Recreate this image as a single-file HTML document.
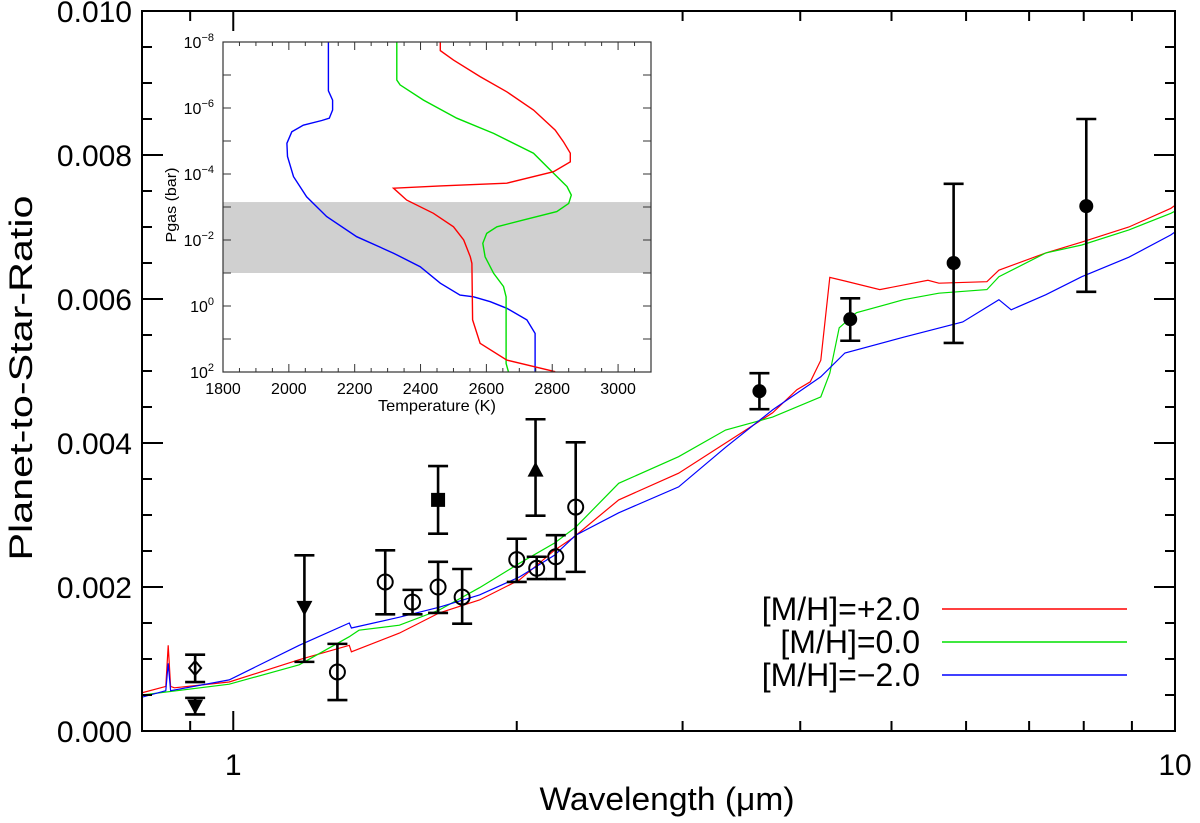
<!DOCTYPE html>
<html><head><meta charset="utf-8"><style>
body{margin:0;background:#fff;}
svg{display:block;font-family:"Liberation Sans",sans-serif;}
</style></head><body>
<svg id="chart" width="1200" height="823" viewBox="0 0 1200 823">
<g id="main"></g>
<g id="inset"></g>
</svg>
<script>
// ---- main chart data (wavelength in micron, ratio in units of 1e-3) ----
const redWl = [0.80,0.848,0.853,0.858,0.866,0.99,1.175,1.328,1.335,1.501,1.655,1.826,2.014,2.193,2.293,2.566,2.971,3.333,3.739,3.967,4.10,4.206,4.30,4.461,4.859,5.465,5.614,6.313,6.501,7.294,7.963,8.934,9.90,10.0];
const redVal = [0.53,0.62,1.19,0.62,0.60,0.68,0.99,1.19,1.10,1.36,1.64,1.82,2.10,2.51,2.68,3.21,3.58,4.00,4.42,4.74,4.85,5.15,6.30,6.25,6.13,6.26,6.22,6.24,6.40,6.64,6.79,7.00,7.26,7.30];
const greenWl = [0.80,0.99,1.175,1.328,1.36,1.501,1.655,1.826,2.014,2.193,2.31,2.566,2.971,3.333,3.739,4.206,4.30,4.40,4.59,5.15,5.614,6.313,6.501,7.294,7.963,8.934,9.90,10.0];
const greenVal = [0.50,0.65,0.92,1.31,1.40,1.47,1.68,1.99,2.33,2.61,2.83,3.44,3.81,4.18,4.36,4.64,4.97,5.60,5.81,5.99,6.08,6.13,6.31,6.64,6.75,6.96,7.19,7.22];
const blueWl = [0.80,0.848,0.853,0.858,0.99,1.175,1.328,1.335,1.501,1.655,1.826,2.014,2.193,2.31,2.566,2.971,3.333,3.739,4.206,4.461,5.15,5.95,6.501,6.70,7.294,7.963,8.934,9.90,10.0];
const blueVal = [0.47,0.56,0.94,0.56,0.71,1.19,1.50,1.43,1.58,1.72,1.89,2.14,2.44,2.72,3.03,3.39,3.94,4.46,4.92,5.25,5.47,5.68,5.99,5.85,6.06,6.31,6.58,6.89,6.93];
// observations
const obsWl   = [0.911,0.911,1.19,1.29,1.45,1.55,1.65,1.65,1.75,2.00,2.094,2.10,2.20,2.31,3.62,4.52,5.82,8.05];
const obsVal  = [0.875,0.34,1.71,0.82,2.07,1.79,3.21,2.00,1.86,2.38,3.63,2.26,2.42,3.11,4.72,5.72,6.50,7.29];
const obsHi   = [1.06,0.46,2.44,1.21,2.51,1.96,3.68,2.35,2.25,2.67,4.33,2.42,2.72,4.01,4.97,6.01,7.60,8.50];
const obsLo   = [0.68,0.23,0.96,0.43,1.62,1.62,2.74,1.64,1.49,2.07,2.99,2.11,2.11,2.21,4.47,5.42,5.39,6.10];
const obsSym  = ['diamond','down','down','open','open','open','square','open','open','open','up','open','open','open','filled','filled','filled','filled'];
const yTicks = [0,2,4,6,8,10];
const yTickLabels = ['0.000','0.002','0.004','0.006','0.008','0.010'];
const xTickMajor = [1,10];
const xTickLabels = ['1','10'];
const legendLabels = ['[M/H]=+2.0','[M/H]=0.0','[M/H]=\u22122.0'];
const legendColors = ['#ff0000','#00e000','#0000ff'];

// ---- inset data (temperature K, log10 pressure bar) ----
const insetBlueT = [2120,2120,2133,2133,2123,2100,2044,2009,1994,1996,2014,2054,2115,2206,2318,2399,2460,2520,2561,2612,2662,2723,2748,2748];
const insetBlueP = [-8,-6.52,-6.24,-5.94,-5.69,-5.62,-5.48,-5.28,-4.93,-4.53,-3.92,-3.31,-2.71,-2.10,-1.60,-1.19,-0.69,-0.33,-0.28,-0.13,0.07,0.42,0.83,1.99];
const insetGreenT = [2328,2328,2338,2409,2510,2622,2743,2794,2845,2858,2850,2814,2713,2632,2601,2589,2596,2622,2652,2660,2660,2667];
const insetGreenP = [-8,-6.85,-6.70,-6.24,-5.69,-5.23,-4.63,-4.12,-3.62,-3.36,-3.11,-2.86,-2.61,-2.40,-2.20,-1.90,-1.49,-0.99,-0.59,-0.28,1.74,1.99];
const insetRedT = [2460,2460,2500,2581,2662,2743,2809,2834,2855,2855,2804,2662,2460,2318,2358,2439,2500,2531,2551,2556,2558,2581,2662,2809];
const insetRedP = [-8,-7.74,-7.45,-6.95,-6.49,-5.94,-5.33,-4.98,-4.63,-4.37,-4.07,-3.72,-3.64,-3.57,-3.21,-2.81,-2.40,-2.00,-1.49,-1.29,0.42,1.13,1.64,1.99];
const bandP = [-3.15,-1.0];
const insetTTicks = [1800,2000,2200,2400,2600,2800,3000];
const insetPTicks = [-8,-6,-4,-2,0,2];

const NS='http://www.w3.org/2000/svg';
function mk(parent,tag,attrs){const e=document.createElementNS(NS,tag);for(const k in attrs)e.setAttribute(k,attrs[k]);parent.appendChild(e);return e;}

// main axes
const X0=142,X1=1175,Y0=731,Y1=11;
const xMin=Math.log10(0.8),xMax=1;
const xs=w=>X0+(Math.log10(w)-xMin)/(xMax-xMin)*(X1-X0);
const ys=v=>Y0-(v/10)*(Y0-Y1);
const main=document.getElementById('main');

const defs=mk(document.getElementById('chart'),'defs',{});
const cp=mk(defs,'clipPath',{id:'mclip'});mk(cp,'rect',{x:X0,y:Y1,width:X1-X0,height:Y0-Y1});
const cp2=mk(defs,'clipPath',{id:'iclip'});

function series(wl,val,color,name){
  const p=mk(main,'polyline',{points:wl.map((w,i)=>xs(w).toFixed(1)+','+ys(val[i]).toFixed(1)).join(' '),fill:'none',stroke:color,'stroke-width':1.2,'clip-path':'url(#mclip)'});
  
  
}
series(redWl,redVal,'#ff0000','series-mh-plus2');
series(greenWl,greenVal,'#00e000','series-mh-0');
series(blueWl,blueVal,'#0000ff','series-mh-minus2');

// observations
obsWl.forEach((w,i)=>{
  const g=mk(main,'g',{});
  
  
  const x=xs(w),y=ys(obsVal[i]),yh=ys(obsHi[i]),yl=ys(obsLo[i]);
  const st={stroke:'#000','stroke-width':2.6};
  mk(g,'line',Object.assign({x1:x,x2:x,y1:yh,y2:yl},st));
  mk(g,'line',Object.assign({x1:x-10,x2:x+10,y1:yh,y2:yh},st));
  mk(g,'line',Object.assign({x1:x-10,x2:x+10,y1:yl,y2:yl},st));
  const s=obsSym[i];
  if(s==='open'){mk(g,'circle',{cx:x,cy:y,r:7.5,fill:'none',stroke:'#000','stroke-width':2});}
  else if(s==='filled'){mk(g,'circle',{cx:x,cy:y,r:7,fill:'#000'});}
  else if(s==='square'){mk(g,'rect',{x:x-7,y:y-7,width:14,height:14,fill:'#000'});}
  else if(s==='diamond'){mk(g,'polygon',{points:`${x},${y-7} ${x+6},${y} ${x},${y+7} ${x-6},${y}`,fill:'none',stroke:'#000','stroke-width':2});}
  else if(s==='down'){mk(g,'polygon',{points:`${x-8},${y-7} ${x+8},${y-7} ${x},${y+8}`,fill:'#000'});}
  else if(s==='up'){mk(g,'polygon',{points:`${x-8},${y+7} ${x+8},${y+7} ${x},${y-8}`,fill:'#000'});}
});

const fr=mk(main,'rect',{x:X0,y:Y1,width:X1-X0,height:Y0-Y1,fill:'none',stroke:'#000','stroke-width':2});


for(let v=0;v<=10.001;v+=0.5){
  const y=ys(v);const major=Math.abs(v-Math.round(v/2)*2)<1e-6;const L=major?21:10;
  mk(main,'line',{x1:X0,x2:X0+L,y1:y,y2:y,stroke:'#000','stroke-width':2});
  mk(main,'line',{x1:X1,x2:X1-L,y1:y,y2:y,stroke:'#000','stroke-width':2});
}
yTicks.forEach((v,i)=>{
  const t=mk(main,'text',{x:132,y:ys(v)+11,'text-anchor':'end','font-size':30});
  t.textContent=yTickLabels[i];
  
  
});
[0.9,1,2,3,4,5,6,7,8,9,10].forEach(w=>{
  const x=xs(w);const major=(w===1||w===10);const L=major?20:10;
  mk(main,'line',{x1:x,x2:x,y1:Y0,y2:Y0-L,stroke:'#000','stroke-width':2});
  mk(main,'line',{x1:x,x2:x,y1:Y1,y2:Y1+L,stroke:'#000','stroke-width':2});
});
xTickMajor.forEach((w,i)=>{
  const t=mk(main,'text',{x:xs(w),y:775,'text-anchor':'middle','font-size':30});
  t.textContent=xTickLabels[i];
  
  
});
const xt=mk(main,'text',{x:667,y:810,'text-anchor':'middle','font-size':32,textLength:255,lengthAdjust:'spacingAndGlyphs'});
xt.textContent='Wavelength (\u03bcm)';


const yt=mk(main,'text',{x:0,y:0,'text-anchor':'middle','font-size':32,textLength:365,lengthAdjust:'spacingAndGlyphs',transform:'translate(32,378) rotate(-90)'});
yt.textContent='Planet-to-Star-Ratio';


legendLabels.forEach((lab,i)=>{
  const y=609+i*33;
  const g=mk(main,'g',{});
  
  
  const t=mk(g,'text',{x:920,y:y+11,'text-anchor':'end','font-size':32});t.textContent=lab;
  mk(g,'line',{x1:942,x2:1127,y1:y,y2:y,stroke:legendColors[i],'stroke-width':1.5});
});

// ---- inset ----
const IX0=223,IX1=651,IY0=42,IY1=372;
const tx=T=>IX0+(T-1800)/(3100-1800)*(IX1-IX0);
const py=p=>IY0+(p+8)/10*(IY1-IY0);
const inset=document.getElementById('inset');
mk(cp2,'rect',{x:IX0,y:IY0,width:IX1-IX0,height:IY1-IY0});
mk(inset,'rect',{x:IX0,y:IY0,width:IX1-IX0,height:IY1-IY0,fill:'#fff'});
const band=mk(inset,'rect',{x:IX0,y:py(bandP[0]),width:IX1-IX0,height:py(bandP[1])-py(bandP[0]),fill:'#d0d0d0'});


function iline(T,P,color,name){
  const p=mk(inset,'polyline',{points:T.map((t,i)=>tx(t).toFixed(1)+','+py(P[i]).toFixed(1)).join(' '),fill:'none',stroke:color,'stroke-width':1.4,'clip-path':'url(#iclip)'});
  
  
}
iline(insetBlueT,insetBlueP,'#0000ff','tp-profile-minus2');
iline(insetGreenT,insetGreenP,'#00e000','tp-profile-0');
iline(insetRedT,insetRedP,'#ff0000','tp-profile-plus2');
const ifr=mk(inset,'rect',{x:IX0,y:IY0,width:IX1-IX0,height:IY1-IY0,fill:'none',stroke:'#333','stroke-width':1.2});


for(let T=1800;T<=3100;T+=50){
  const x=tx(T);const L=(T%200===0)?8:4;
  mk(inset,'line',{x1:x,x2:x,y1:IY1,y2:IY1-L,stroke:'#333','stroke-width':1});
  mk(inset,'line',{x1:x,x2:x,y1:IY0,y2:IY0+L,stroke:'#333','stroke-width':1});
}
for(let p=-8;p<=2;p++){
  const y=py(p);const L=8;
  mk(inset,'line',{x1:IX0,x2:IX0+L,y1:y,y2:y,stroke:'#333','stroke-width':1});
  mk(inset,'line',{x1:IX1,x2:IX1-L,y1:y,y2:y,stroke:'#333','stroke-width':1});
}
insetTTicks.forEach(T=>{
  const t=mk(inset,'text',{x:tx(T),y:394,'text-anchor':'middle','font-size':16});t.textContent=String(T);
  
  
});
insetPTicks.forEach(p=>{
  const t=mk(inset,'text',{x:214,y:py(p)+6,'text-anchor':'end','font-size':16});
  t.appendChild(document.createTextNode('10'));
  const s=mk(t,'tspan',{'font-size':11,dy:-7});s.textContent=(p<0?'\u2212':'')+Math.abs(p);
  
  
});
const itx=mk(inset,'text',{x:tx(2450),y:411,'text-anchor':'middle','font-size':16,textLength:118,lengthAdjust:'spacingAndGlyphs'});
itx.textContent='Temperature (K)';


const ity=mk(inset,'text',{x:0,y:0,'text-anchor':'middle','font-size':15,textLength:75,lengthAdjust:'spacingAndGlyphs',transform:'translate(176,205) rotate(-90)'});
ity.textContent='Pgas (bar)';


</script>
</body></html>
